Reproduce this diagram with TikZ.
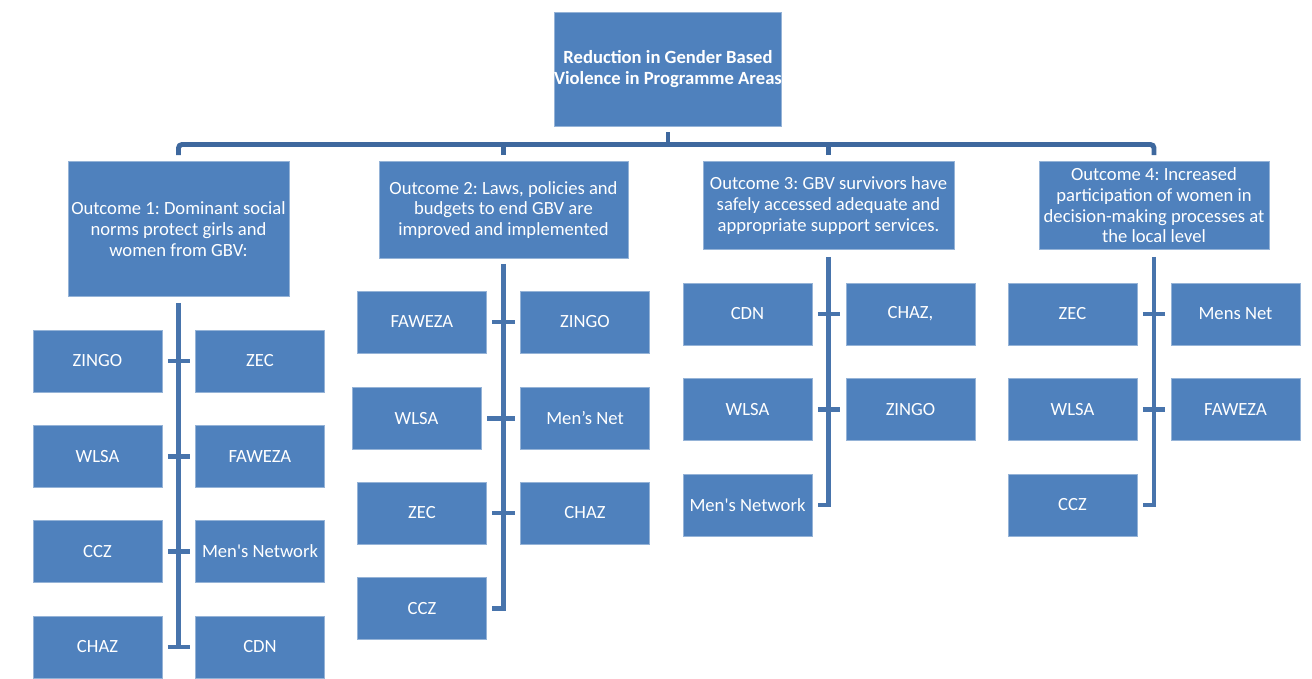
\documentclass[tikz,border=0pt]{standalone}
\usepackage{fontspec}
\setmainfont{Carlito}
\usepackage{tikz}
\frenchspacing

\definecolor{boxblue}{RGB}{79,129,189}
\definecolor{barblue}{RGB}{62,104,158}
\definecolor{spineblue}{RGB}{72,116,172}

\tikzset{
	unit/.style={draw=boxblue!60!white, line width=.5pt, fill=boxblue, text=white,
		inner sep=0pt, align=center, font=\fontsize{10.6}{11.8}\selectfont},
	org/.style={unit, minimum width=2.58cm, minimum height=1.24cm},
	outcome/.style={unit, anchor=north},
	bar/.style={draw=barblue, line width=2.8pt},
	spine/.style={draw=spineblue, line width=2.8pt},
}

\begin{document}
\begin{tikzpicture}[x=0.02cm,y=-0.02cm]

	\useasboundingbox (0,0) rectangle (1312,679);

	\node[unit, minimum width=4.52cm, minimum height=2.28cm,
		font=\fontsize{10.6}{11.8}\selectfont\bfseries] (goal) at (668,69)
		{Reduction in Gender Based\\Violence in Programme Areas};
	\coordinate (lvl) at (668,144.5);

	\node[outcome, minimum width=4.42cm, minimum height=2.7cm] (o1) at (178.5,161)
		{Outcome 1: Dominant social\\norms protect girls and\\women from GBV:};
	\node[outcome, minimum width=4.98cm, minimum height=1.94cm] (o2) at (503.5,161)
		{Outcome 2: Laws, policies and\\budgets to end GBV are\\improved and implemented};
	\node[outcome, minimum width=5.02cm, minimum height=1.76cm] (o3) at (828.5,161)
		{Outcome 3: GBV survivors have\\safely accessed adequate and\\appropriate support services.};
	\node[outcome, minimum width=4.6cm, minimum height=1.76cm] (o4) at (1154,161)
		{Outcome 4: Increased\\participation of women in\\decision-making processes at\\the local level};

	% outcome 1
	\node[org] (o1a) at (97.5,361) {ZINGO};
	\node[org] (o1b) at (260,361) {ZEC};
	\node[org] (o1c) at (97.5,456.5) {WLSA};
	\node[org] (o1d) at (260,456.5) {FAWEZA};
	\node[org] (o1e) at (97.5,551.5) {CCZ};
	\node[org] (o1f) at (260,551.5) {Men\textquotesingle s Network};
	\node[org] (o1g) at (97.5,647) {CHAZ};
	\node[org] (o1h) at (260,647) {CDN};

	% outcome 2
	\node[org] (o2a) at (422,322) {FAWEZA};
	\node[org] (o2b) at (585,322) {ZINGO};
	\node[org] (o2c) at (416.5,418.5) {WLSA};
	\node[org] (o2d) at (585,418) {Men’s Net};
	\node[org] (o2e) at (422,513) {ZEC};
	\node[org] (o2f) at (585,513) {CHAZ};
	\node[org] (o2g) at (422,608.5) {CCZ};

	% outcome 3
	\node[org] (o3a) at (747.5,314) {CDN};
	\node[org] (o3b) at (910.5,314) {CHAZ,};
	\node[org] (o3c) at (747.5,409.5) {WLSA};
	\node[org] (o3d) at (910.5,409.5) {ZINGO};
	\node[org] (o3e) at (747.5,505) {Men\textquotesingle s Network};

	% outcome 4
	\node[org] (o4a) at (1072.5,314) {ZEC};
	\node[org] (o4b) at (1235.5,314) {Mens Net};
	\node[org] (o4c) at (1072.5,409.5) {WLSA};
	\node[org] (o4d) at (1235.5,409.5) {FAWEZA};
	\node[org] (o4e) at (1072.5,505) {CCZ};

	% top level
	\draw[bar] ([yshift=-.12cm]goal.south) -- (goal.south |- lvl);
	\draw[bar, rounded corners=2pt] ([yshift=.12cm]o1.north) -- (o1.north |- lvl)
		-- (o4.north |- lvl) -- ([yshift=.12cm]o4.north);
	\draw[bar] ([yshift=.12cm]o2.north) -- (o2.north |- lvl);
	\draw[bar] ([yshift=.12cm]o3.north) -- (o3.north |- lvl);

	% spines
	\draw[spine] ([yshift=-.12cm]o1.south) -- (o1.south |- o1g.center);
	\draw[spine] ([yshift=-.1cm]o2.south) -- (o2.south |- o2g.center) -- ([xshift=.11cm]o2g.east);
	\draw[spine] ([yshift=-.14cm]o3.south) -- (o3.south |- o3e.center) -- ([xshift=.11cm]o3e.east);
	\draw[spine] ([yshift=-.14cm]o4.south) -- (o4.south |- o4e.center) -- ([xshift=.11cm]o4e.east);

	% ticks
	\draw[spine] ([xshift=.11cm]o1a.east) -- ([xshift=-.11cm]o1b.west);
	\draw[spine] ([xshift=.11cm]o1c.east) -- ([xshift=-.11cm]o1d.west);
	\draw[spine] ([xshift=.11cm]o1e.east) -- ([xshift=-.11cm]o1f.west);
	\draw[spine] ([xshift=.11cm]o1g.east) -- ([xshift=-.11cm]o1h.west);
	\draw[spine] ([xshift=.11cm]o2a.east) -- ([xshift=-.11cm]o2b.west);
	\draw[spine] ([xshift=.11cm]o2c.east) -- ([xshift=-.11cm]o2d.west |- o2c.east);
	\draw[spine] ([xshift=.11cm]o2e.east) -- ([xshift=-.11cm]o2f.west);
	\draw[spine] ([xshift=.11cm]o3a.east) -- ([xshift=-.11cm]o3b.west);
	\draw[spine] ([xshift=.11cm]o3c.east) -- ([xshift=-.11cm]o3d.west);
	\draw[spine] ([xshift=.11cm]o4a.east) -- ([xshift=-.11cm]o4b.west);
	\draw[spine] ([xshift=.11cm]o4c.east) -- ([xshift=-.11cm]o4d.west);

\end{tikzpicture}
\end{document}
